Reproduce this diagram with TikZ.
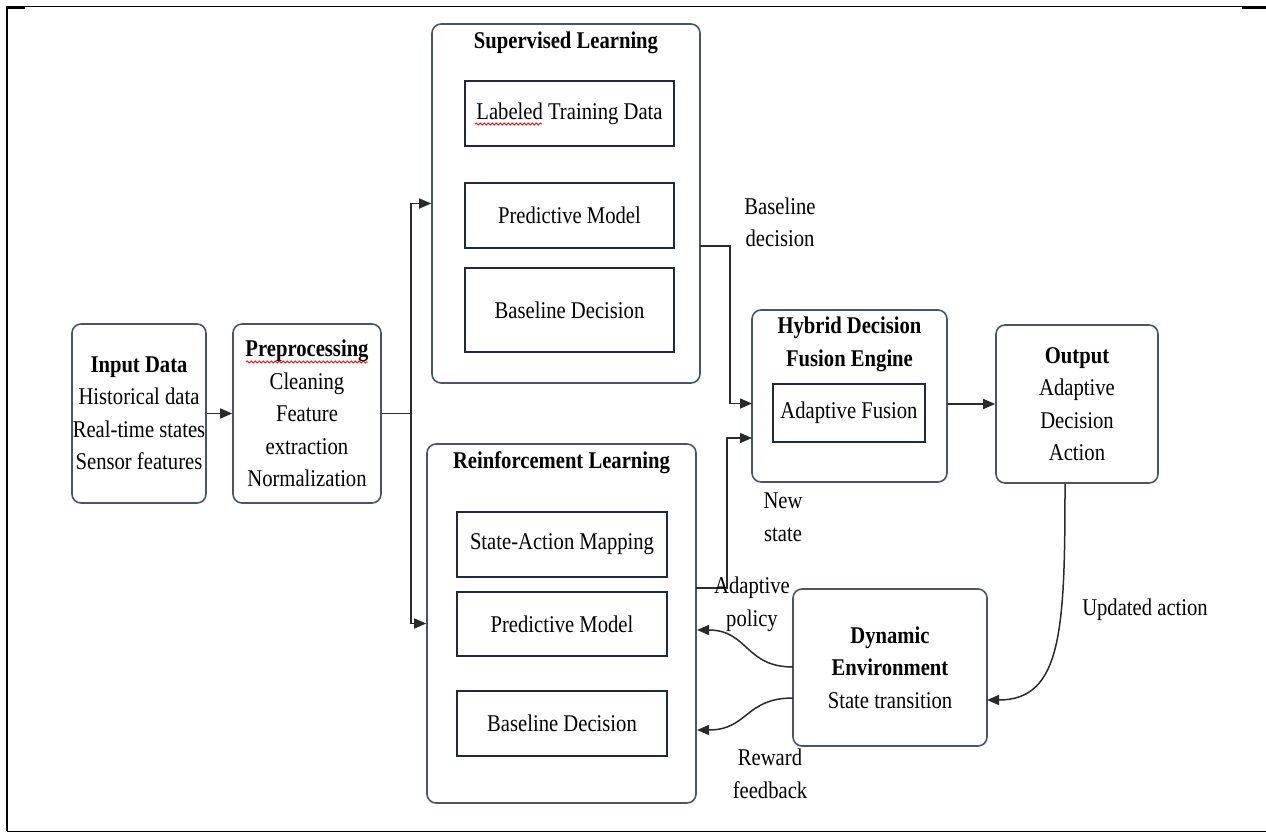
\documentclass[tikz,border=0pt]{standalone}
\usepackage{fontspec}
\setmainfont{Liberation Serif}[FakeStretch=0.86]
\usetikzlibrary{arrows.meta,decorations.pathmorphing,calc}
\definecolor{boxline}{HTML}{4A5272}
\definecolor{innerline}{HTML}{1F2847}
\definecolor{connc}{HTML}{2A2A2A}
\tikzset{
  rbox/.style={draw=boxline, line width=1.6pt, rounded corners=9pt, inner sep=0pt},
  ibox/.style={draw=innerline, line width=1.4pt, inner sep=0pt},
  txt/.style={font=\fontsize{24}{32.5}\selectfont, align=center, inner sep=0pt},
  link/.style={draw=connc, line width=1.5pt},
  arr/.style={link, -{Triangle[length=12pt,width=10pt]}},
  squig/.style={draw=red, line width=0.8pt, decorate, decoration={snake, amplitude=1.1pt, segment length=4pt}}
}
\begin{document}
\begin{tikzpicture}[x=1pt,y=-1pt]
\useasboundingbox (0,0) rectangle (1266,832);
% frame
\draw[line width=2.4pt] (7,831) -- (7,6.5);
\draw[line width=1pt] (7,7) -- (1266,7);
\draw[line width=2.4pt] (6,7.5) -- (25,7.5);
\draw[line width=2.4pt] (1242,7.8) -- (1266,7.8);
\draw[line width=1pt] (7,831) -- (1266,831);

% input and preprocessing
\node[rbox, txt, minimum width=134pt, minimum height=179pt] (in) at (139,413.5)
  {\textbf{Input Data}\\Historical data\\Real-time states\\Sensor features};
\node[rbox, txt, minimum width=148pt, minimum height=179pt] (pre) at (307,413.5)
  {\textbf{Preprocessing}\\Cleaning\\Feature\\extraction\\Normalization};

% supervised learning
\node[rbox, minimum width=268pt, minimum height=359pt] (sl) at (566,203.5) {};
\node[txt] (sltitle) at (566,43) {\textbf{Supervised Learning}};
\node[ibox, txt, minimum width=209pt, minimum height=65pt] (lab) at (569.5,113.5) {Labeled Training Data};
\node[ibox, txt, minimum width=209pt, minimum height=65pt] (pm1) at (569.5,215.5) {Predictive Model};
\node[ibox, txt, minimum width=209pt, minimum height=84pt] (bd1) at (569.5,310) {Baseline Decision};

% reinforcement learning
\node[rbox, minimum width=269pt, minimum height=359pt] (rl) at (561.5,623.5) {};
\node[txt] (rltitle) at (561.5,463) {\textbf{Reinforcement Learning}};
\node[ibox, txt, minimum width=210pt, minimum height=65pt] (sam) at (562,544.5) {State-Action Mapping};
\node[ibox, txt, minimum width=210pt, minimum height=64pt] (pm2) at (562,624) {Predictive Model};
\node[ibox, txt, minimum width=210pt, minimum height=65pt] (bd2) at (562,723.5) {Baseline Decision};

% hybrid
\node[rbox, minimum width=195pt, minimum height=172pt] (hy) at (849.5,396) {};
\node[txt] (hytitle) at (849.5,344.5) {\textbf{Hybrid Decision}\\\textbf{Fusion Engine}};
\node[ibox, txt, minimum width=152pt, minimum height=58pt] (af) at (849,413) {Adaptive Fusion};

% output
\node[rbox, txt, minimum width=162pt, minimum height=158pt] (out) at (1077,404)
  {\textbf{Output}\\Adaptive\\Decision\\Action};

% dynamic environment
\node[rbox, txt, minimum width=194pt, minimum height=157pt] (de) at (890,667.5)
  {\textbf{Dynamic}\\\textbf{Environment}\\State transition};

% coordinates
\coordinate (sp) at (411,413.5);
\coordinate (slout) at (700,246);
\coordinate (hyin1) at (752,403.5);
\coordinate (rlout) at (696,588);
\coordinate (hyin2) at (752,438);
\coordinate (deinR) at (987,700);
\coordinate (deout1) at (793,667);
\coordinate (rlin1) at (697,630);
\coordinate (deout2) at (793,698);
\coordinate (rlin2) at (697,730);

% connectors
\draw[arr] (in.east) -- (pre.west);
\draw[link] (pre.east) -- (sp);
\draw[arr] (sp) |- (sl.west);
\draw[arr] (sp) |- (rl.west);
\draw[arr] (slout) -- (730,246) -- (730,403.5) -- (hyin1);
\draw[arr] (rlout) -- (727,588) -- (727,438) -- (hyin2);
\draw[arr] (hy.east |- out.west) -- (out.west);
\draw[arr] ($(out.south)+(-12,0)$) .. controls (1065,630) and (1062,700) .. (deinR);
\draw[arr] (deout1) .. controls (745,667) and (748,630) .. (rlin1);
\draw[arr] (deout2) .. controls (745,698) and (748,730) .. (rlin2);

% labels
\node[txt] (lbd) at (780,222.5) {Baseline\\decision};
\node[txt] (lns) at (783,517.5) {New\\state};
\node[txt] (lap) at (752,604.5) {Adaptive\\policy};
\node[txt] (lrf) at (770,774) {Reward\\feedback};
\node[txt] (lua) at (1145,610) {Updated action};

% spell-check squiggles
\draw[squig] (475,124) -- (542,124);
\draw[squig] (246,362) -- (368,362);
\end{tikzpicture}
\end{document}
